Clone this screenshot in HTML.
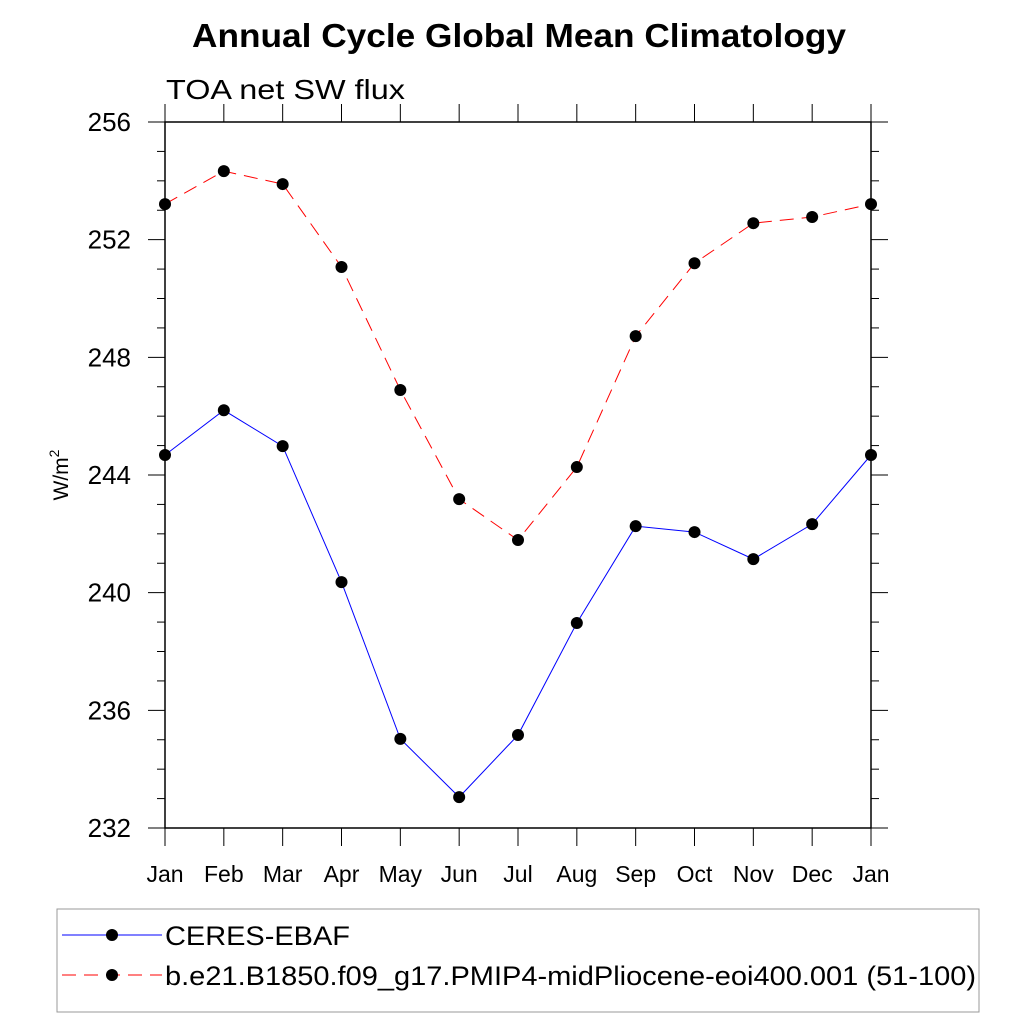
<!DOCTYPE html>
<html><head><meta charset="utf-8"><style>
body{margin:0;background:#fff}
svg text{font-family:"Liberation Sans",sans-serif}
</style></head><body>
<svg id="c" width="1024" height="1024" viewBox="0 0 1024 1024" xmlns="http://www.w3.org/2000/svg">
<text x="192" y="47" font-size="33" font-weight="bold" textLength="654" lengthAdjust="spacingAndGlyphs">Annual Cycle Global Mean Climatology</text>
<text x="166" y="99" font-size="28" textLength="239" lengthAdjust="spacingAndGlyphs">TOA net SW flux</text>
<text transform="translate(68,475) rotate(-90)" text-anchor="middle" font-size="21">W/m<tspan dy="-9" font-size="14">2</tspan></text>
<g id="axes"></g>
<g id="series"></g>
<g>
<rect x="57" y="909" width="922" height="103" fill="none" stroke="#999" stroke-width="1"/>
<line x1="62" y1="935" x2="162" y2="935" stroke="#0000ff" stroke-width="1"/>
<circle cx="112" cy="935" r="6" fill="#000"/>
<text x="165" y="945" font-size="27" textLength="185" lengthAdjust="spacingAndGlyphs">CERES-EBAF</text>
<line x1="62" y1="975" x2="162" y2="975" stroke="#ff0000" stroke-width="1" stroke-dasharray="14,8"/>
<circle cx="112" cy="975" r="6" fill="#000"/>
<text x="165" y="985" font-size="27" textLength="811" lengthAdjust="spacingAndGlyphs">b.e21.B1850.f09_g17.PMIP4-midPliocene-eoi400.001 (51-100)</text>
</g>
</svg>
<script>
const months=["Jan","Feb","Mar","Apr","May","Jun","Jul","Aug","Sep","Oct","Nov","Dec","Jan"];
const ceres=[244.68,246.2,244.98,240.36,235.03,233.05,235.16,238.97,242.26,242.06,241.14,242.33,244.68];
const model=[253.21,254.33,253.89,251.07,246.89,243.18,241.79,244.27,248.72,251.2,252.56,252.77,253.21];
const yTicks=[232,236,240,244,248,252,256];
const X0=165,X1=871,Y0=828,Y1=122,ymin=232,ymax=256;
const xs=i=>X0+(X1-X0)*i/(months.length-1);
const ys=v=>Y0-(v-ymin)/(ymax-ymin)*(Y0-Y1);
const NS="http://www.w3.org/2000/svg";
function mk(t,a,p){const e=document.createElementNS(NS,t);for(const k in a)e.setAttribute(k,a[k]);p.appendChild(e);return e;}
const ax=document.getElementById('axes');
const fr=mk('rect',{x:X0,y:Y1,width:X1-X0,height:Y0-Y1,fill:'none',stroke:'#000','stroke-width':1.5},ax);


for(let v=ymin;v<=ymax;v++){const maj=(v-ymin)%4===0;const L=maj?17:8;const y=ys(v);
 mk('line',{x1:X0-L,y1:y,x2:X0,y2:y,stroke:'#000','stroke-width':1},ax);
 mk('line',{x1:X1,y1:y,x2:X1+L,y2:y,stroke:'#000','stroke-width':1},ax);}
yTicks.forEach(v=>{const t=mk('text',{x:X0-34,y:ys(v)+9,'text-anchor':'end','font-size':26},ax);t.textContent=v;
 
 });
months.forEach((m,i)=>{const x=xs(i);
 mk('line',{x1:x,y1:Y0,x2:x,y2:Y0+18,stroke:'#000','stroke-width':1},ax);
 mk('line',{x1:x,y1:Y1,x2:x,y2:Y1-18,stroke:'#000','stroke-width':1},ax);
 const t=mk('text',{x:x,y:882,'text-anchor':'middle','font-size':23},ax);t.textContent=m;
 
 });
const sg=document.getElementById('series');
function draw(vals,color,dash,name){
 const pl=mk('polyline',{points:vals.map((v,i)=>xs(i)+','+ys(v)).join(' '),fill:'none',stroke:color,'stroke-width':1,'stroke-dasharray':dash},sg);
 
 
 vals.forEach((v,i)=>{const c=mk('circle',{cx:xs(i),cy:ys(v),r:6,fill:'#000'},sg);
  
  });
}
draw(ceres,'#0000ff','none','ceres');
draw(model,'#ff0000','14,8','model');
</script>
</body></html>
